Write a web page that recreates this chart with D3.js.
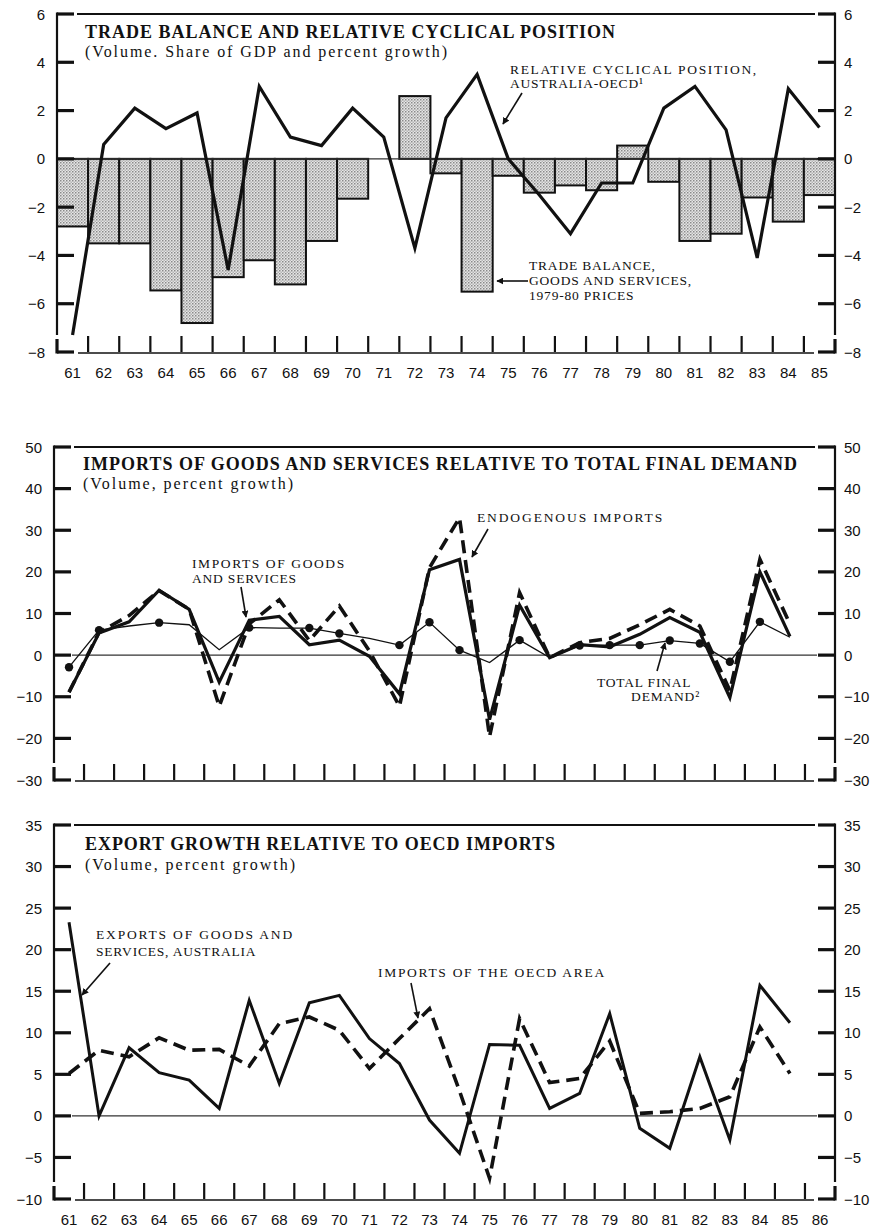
<!DOCTYPE html>
<html>
<head>
<meta charset="utf-8">
<script src="https://cdn.jsdelivr.net/npm/d3@7"></script>
<style>
  body { margin: 0; background: #fff; }
  .tick-label { font-family: "Liberation Sans", Arial, sans-serif; font-size: 15px; fill: #111; }
  .title { font-family: "Liberation Serif", "Times New Roman", serif; font-weight: bold; font-size: 18px; fill: #111; }
  .subtitle { font-family: "Liberation Serif", "Times New Roman", serif; font-size: 16px; fill: #111; }
  .note { font-family: "Liberation Serif", "Times New Roman", serif; font-size: 13.5px; letter-spacing: 0.8px; fill: #111; }
</style>
</head>
<body>
<svg id="chart" width="884" height="1228"></svg>
<script>
// ---- Data ---------------------------------------------------------------
// Year labels (19xx)
const yearsTop = ["61","62","63","64","65","66","67","68","69","70","71","72","73",
                  "74","75","76","77","78","79","80","81","82","83","84","85"];
const yearsLower = yearsTop.concat(["86"]);

// Panel 1: trade balance, goods and services, 1979-80 prices (% of GDP)
const tradeBalance = [-2.8,-3.5,-3.5,-5.45,-6.8,-4.9,-4.2,-5.2,-3.4,-1.65,0,2.6,-0.6,
                      -5.5,-0.7,-1.4,-1.1,-1.3,0.55,-0.95,-3.4,-3.1,-1.6,-2.6,-1.5];
// Panel 1: relative cyclical position, Australia-OECD
const cyclicalPosition = [-7.3,0.6,2.1,1.25,1.9,-4.6,3.0,0.9,0.55,2.1,0.9,-3.7,1.7,
                          3.5,0.0,-1.5,-3.1,-1.0,-1.0,2.1,3.0,1.2,-4.1,2.9,1.3];
const ticksTop = [-8,-6,-4,-2,0,2,4,6];

// Panel 2: imports of goods and services, endogenous imports, total final demand (% growth)
const importsGS = [-8.9,5.3,8.0,15.6,11.0,-6.5,8.4,9.3,2.5,3.6,-0.3,-9.3,20.5,
                   23.0,-15.5,12.0,-0.6,2.5,2.0,5.0,9.0,5.5,-10.2,20.0,4.5];
const endogenousImports = [-8.9,5.5,9.5,15.5,11.0,-12.3,7.5,13.3,3.5,11.8,1.0,-12.3,21.0,
                           33.0,-19.6,15.0,-0.6,3.0,4.0,7.3,11.0,7.0,-8.5,23.0,7.5];
const totalFinalDemand = [-2.9,6.0,7.0,7.8,7.3,1.3,6.6,6.5,6.5,5.2,4.0,2.4,7.9,
                          1.2,-1.8,3.6,-0.6,2.3,2.4,2.4,3.5,2.8,-1.6,8.0,4.3];
const tfdMarkedYears = ["61","62","64","67","69","70","72","73","74","76","78","79","80","81","82","83","84"];
const ticksMid = [-30,-20,-10,0,10,20,30,40,50];

// Panel 3: exports of goods and services (Australia) and imports of the OECD area (% growth)
const exportsAus = [23.3,0.0,8.2,5.2,4.3,0.9,13.9,3.9,13.6,14.5,9.3,6.3,-0.5,
                    -4.5,8.6,8.5,0.9,2.7,12.3,-1.5,-3.9,7.1,-2.9,15.7,11.2];
const oecdImports = [5.1,7.9,7.1,9.4,7.9,8.0,6.0,11.1,11.9,10.3,5.7,9.3,12.9,
                     3.0,-7.5,11.7,4.0,4.5,9.0,0.3,0.5,0.9,2.3,10.7,5.1];
const ticksBottom = [-10,-5,0,5,10,15,20,25,30,35];

// ---- Drawing ------------------------------------------------------------
const svg = d3.select("#chart");
const defs = svg.append("defs");

// stippled grey fill for the trade-balance bars
const pat = defs.append("pattern")
  .attr("id", "stipple").attr("patternUnits", "userSpaceOnUse")
  .attr("width", 3).attr("height", 3);
pat.append("rect").attr("width", 3).attr("height", 3).attr("fill", "#e6e6e6");
pat.append("rect").attr("width", 1.5).attr("height", 1.5).attr("fill", "#8a8a8a");
pat.append("rect").attr("x", 1.5).attr("y", 1.5).attr("width", 1.5).attr("height", 1.5).attr("fill", "#b5b5b5");

defs.append("marker")
  .attr("id", "arrowhead").attr("viewBox", "0 0 10 10")
  .attr("refX", 9).attr("refY", 5)
  .attr("markerWidth", 7).attr("markerHeight", 7)
  .attr("markerUnits", "userSpaceOnUse")
  .attr("orient", "auto")
  .append("path").attr("d", "M0,0 L10,5 L0,10 z").attr("fill", "#111");

const fmt = v => (v < 0 ? "\u2212" + Math.abs(v) : String(v));

function seg(g, x1, y1, x2, y2, w) {
  return g.append("line").attr("x1", x1).attr("y1", y1).attr("x2", x2).attr("y2", y2)
    .attr("stroke", "#111").attr("stroke-width", w);
}

function drawFrame(g, x, y, ticks, xLabels) {
  const [x0, x1] = x.range();
  const [yBot, yTop] = y.range();
  // top rule (between the corner ticks) and zero line
  seg(g, x0 + 20, yTop, x1 - 20, yTop, 1.8);
  seg(g, x0 + 18, y(0), x1 - 18, y(0), 1.1).attr("stroke", "#333");
  // vertical axes, broken just above the bottom corner brackets
  [x0, x1].forEach(xx => {
    seg(g, xx, yTop - 1.5, xx, yBot - 17, 2.2);
    seg(g, xx, yBot - 13, xx, yBot + 1.5, 3.2);
  });
  // y ticks on both sides
  g.selectAll("line.yl").data(ticks).join("line").attr("class", "yl")
    .attr("x1", x0).attr("x2", x0 + 17).attr("y1", d => y(d)).attr("y2", d => y(d))
    .attr("stroke", "#111").attr("stroke-width", 3.2);
  g.selectAll("line.yr").data(ticks).join("line").attr("class", "yr")
    .attr("x1", x1 - 17).attr("x2", x1).attr("y1", d => y(d)).attr("y2", d => y(d))
    .attr("stroke", "#111").attr("stroke-width", 3.2);
  g.selectAll("text.yl").data(ticks).join("text")
    .attr("class", "tick-label yl")
    .attr("x", x0 - 12).attr("y", d => y(d) + 5.5).attr("text-anchor", "end").text(fmt);
  g.selectAll("text.yr").data(ticks).join("text")
    .attr("class", "tick-label yr")
    .attr("x", x1 + 9).attr("y", d => y(d) + 5.5).attr("text-anchor", "start").text(fmt);
  // bottom rule with year ticks at band boundaries
  seg(g, x0 + 21, yBot + 1, x1 - 21, yBot + 1, 1.6);
  const bounds = x.domain().slice(1).map(d => x(d));
  g.selectAll("line.xt").data(bounds).join("line")
    .attr("class", "xt")
    .attr("x1", d => d).attr("x2", d => d).attr("y1", yBot).attr("y2", yBot - 16)
    .attr("stroke", "#111").attr("stroke-width", 2.2);
  if (xLabels) {
    g.selectAll("text.xl").data(x.domain()).join("text")
      .attr("class", "tick-label xl")
      .attr("x", d => x(d) + x.bandwidth() / 2).attr("y", yBot + 26)
      .attr("text-anchor", "middle").text(d => d);
  }
}

function text(g, cls, x, y, str, len, anchor) {
  const t = g.append("text").attr("class", cls).attr("x", x).attr("y", y).text(str);
  if (len) t.attr("textLength", len).attr("lengthAdjust", "spacing");
  if (anchor) t.attr("text-anchor", anchor);
  return t;
}
function arrow(g, x1, y1, x2, y2) {
  seg(g, x1, y1, x2, y2, 1.6).attr("marker-end", "url(#arrowhead)");
}

// ---------- Panel 1 ----------
{
  const g = svg.append("g");
  const x = d3.scaleBand().domain(yearsTop).range([57, 835]);
  const y = d3.scaleLinear().domain([-8, 6]).range([352, 14]);
  const cx = d => x(d) + x.bandwidth() / 2;

  g.selectAll("rect.bar").data(yearsTop.map((d, i) => ({ yr: d, v: tradeBalance[i] })).filter(d => d.v !== 0))
    .join("rect").attr("class", "bar")
    .attr("x", d => x(d.yr)).attr("width", x.bandwidth())
    .attr("y", d => y(Math.max(0, d.v))).attr("height", d => Math.abs(y(d.v) - y(0)))
    .attr("fill", "url(#stipple)").attr("stroke", "#111").attr("stroke-width", 2);

  drawFrame(g, x, y, ticksTop, true);

  g.append("path")
    .datum(yearsTop.map((d, i) => [cx(d), y(cyclicalPosition[i])]))
    .attr("d", d3.line()).attr("fill", "none")
    .attr("stroke", "#111").attr("stroke-width", 3.2).attr("stroke-linejoin", "miter");

  text(g, "title", 85, 38, "TRADE BALANCE AND RELATIVE CYCLICAL POSITION", 530);
  text(g, "subtitle", 85, 57, "(Volume. Share of GDP and percent growth)", 362);
  text(g, "note", 510, 74, "RELATIVE CYCLICAL POSITION,", 247);
  text(g, "note", 510, 88, "AUSTRALIA-OECD\u00B9");
  arrow(g, 522, 93, 503, 124);
  text(g, "note", 529, 270, "TRADE BALANCE,");
  text(g, "note", 529, 285, "GOODS AND SERVICES,");
  text(g, "note", 529, 300, "1979-80 PRICES");
  arrow(g, 528, 281, 497, 281);
}

// ---------- Panel 2 ----------
{
  const g = svg.append("g");
  const x = d3.scaleBand().domain(yearsLower).range([54, 835]);
  const y = d3.scaleLinear().domain([-30, 50]).range([780, 447]);
  const cx = d => x(d) + x.bandwidth() / 2;

  drawFrame(g, x, y, ticksMid, false);

  const line = d3.line();
  g.append("path")
    .datum(yearsTop.map((d, i) => [cx(d), y(totalFinalDemand[i])]))
    .attr("d", line).attr("fill", "none").attr("stroke", "#111").attr("stroke-width", 1.3);
  g.selectAll("circle.tfd").data(tfdMarkedYears).join("circle")
    .attr("class", "tfd")
    .attr("cx", d => cx(d)).attr("cy", d => y(totalFinalDemand[yearsTop.indexOf(d)]))
    .attr("r", 4.2).attr("fill", "#111");
  g.append("path")
    .datum(yearsTop.map((d, i) => [cx(d), y(endogenousImports[i])]))
    .attr("d", line).attr("fill", "none").attr("stroke", "#111").attr("stroke-width", 3.6)
    .attr("stroke-dasharray", "13,7");
  g.append("path")
    .datum(yearsTop.map((d, i) => [cx(d), y(importsGS[i])]))
    .attr("d", line).attr("fill", "none").attr("stroke", "#111").attr("stroke-width", 3.2);

  text(g, "title", 83, 470, "IMPORTS OF GOODS AND SERVICES RELATIVE TO TOTAL FINAL DEMAND", 714);
  text(g, "subtitle", 83, 489, "(Volume, percent growth)", 210);
  text(g, "note", 477, 522, "ENDOGENOUS IMPORTS", 186);
  arrow(g, 488, 529, 472, 557);
  text(g, "note", 192, 568, "IMPORTS OF GOODS", 153);
  text(g, "note", 192, 583, "AND SERVICES");
  arrow(g, 241, 587, 246, 617);
  text(g, "note", 597, 687, "TOTAL FINAL");
  text(g, "note", 700, 701, "DEMAND\u00B2", null, "end");
  arrow(g, 657, 671, 665, 643);
}

// ---------- Panel 3 ----------
{
  const g = svg.append("g");
  const x = d3.scaleBand().domain(yearsLower).range([54, 835]);
  const y = d3.scaleLinear().domain([-10, 35]).range([1199, 825]);
  const cx = d => x(d) + x.bandwidth() / 2;

  drawFrame(g, x, y, ticksBottom, true);

  const line = d3.line();
  g.append("path")
    .datum(yearsTop.map((d, i) => [cx(d), y(oecdImports[i])]))
    .attr("d", line).attr("fill", "none").attr("stroke", "#111").attr("stroke-width", 3.6)
    .attr("stroke-dasharray", "13,7");
  g.append("path")
    .datum(yearsTop.map((d, i) => [cx(d), y(exportsAus[i])]))
    .attr("d", line).attr("fill", "none").attr("stroke", "#111").attr("stroke-width", 3.0);

  text(g, "title", 85, 850, "EXPORT GROWTH RELATIVE TO OECD IMPORTS", 470);
  text(g, "subtitle", 85, 870, "(Volume, percent growth)", 210);
  text(g, "note", 96, 939, "EXPORTS OF GOODS AND", 197);
  text(g, "note", 96, 956, "SERVICES, AUSTRALIA");
  arrow(g, 110, 963, 82, 995);
  text(g, "note", 378, 977, "IMPORTS OF THE OECD AREA", 227);
  arrow(g, 411, 983, 418, 1018);
}
</script>
</body>
</html>
